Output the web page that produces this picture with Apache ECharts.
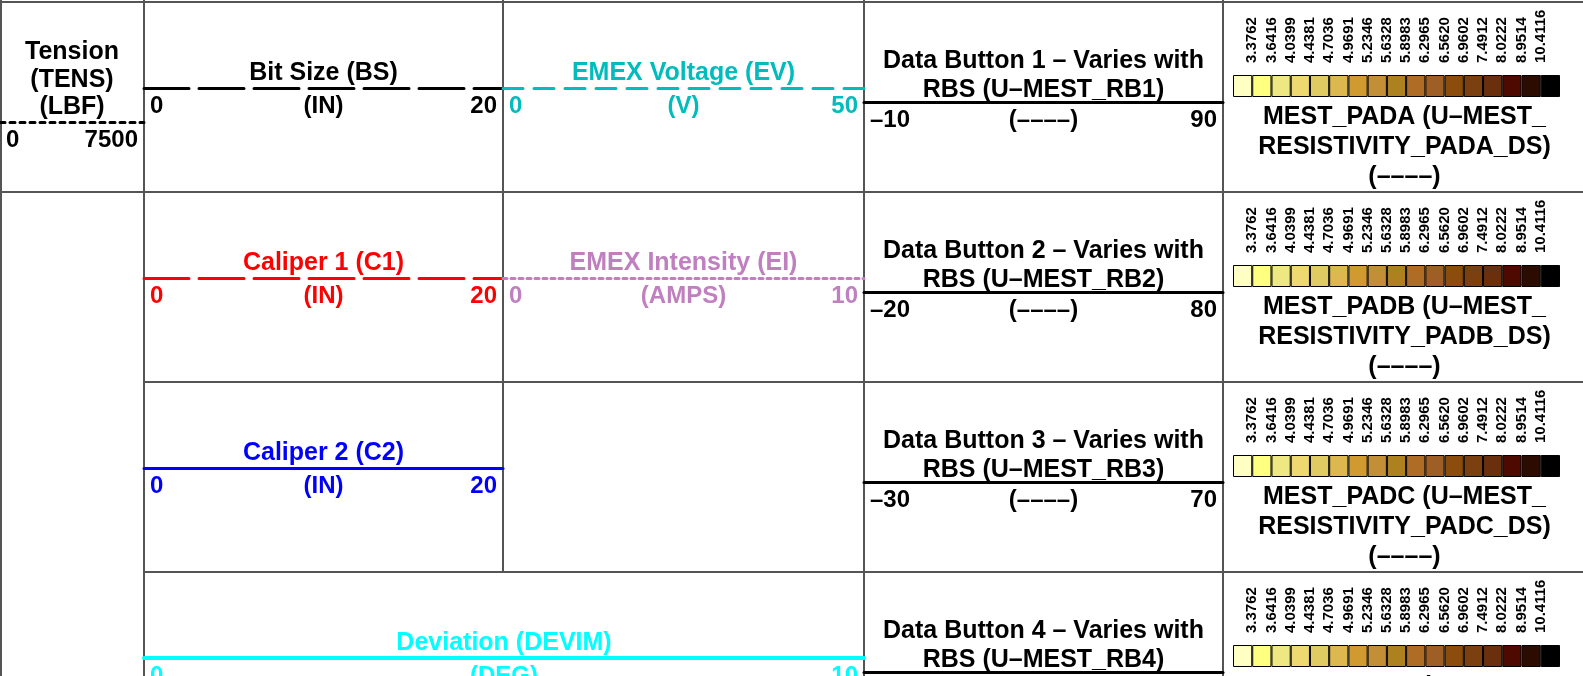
<!DOCTYPE html>
<html lang="en">
<head>
<meta charset="utf-8">
<title>Log header</title>
<script src="https://cdn.jsdelivr.net/npm/echarts@6/dist/echarts.min.js"></script>
<style>html,body{margin:0;padding:0;background:#fff;}</style>
</head>
<body>
<div id="main" style="width:1583px;height:676px;"></div>
<script>
// curve scales shown in the header
var curveTitles = ['Tension\n(TENS)\n(LBF)', 'Bit Size (BS)', 'EMEX Voltage (EV)', 'Caliper 1 (C1)', 'EMEX Intensity (EI)', 'Caliper 2 (C2)', 'Deviation (DEVIM)'];
var curveUnits = ['', '(IN)', '(V)', '(IN)', '(AMPS)', '(IN)', '(DEG)'];
var curveMin = [0, 0, 0, 0, 0, 0, 0];
var curveMax = [7500, 20, 50, 20, 10, 20, 10];
var curveColors = ['#000000', '#000000', '#00bcbc', '#ff0000', '#c080c0', '#0000ff', '#00ffff'];
var curveDash = [[5, 5], [45, 10], [20, 11], [45, 10], [4, 4], 'solid', 'solid'];

// data buttons
var buttonTitles = [
  'Data Button 1 – Varies with\nRBS (U–MEST_RB1)',
  'Data Button 2 – Varies with\nRBS (U–MEST_RB2)',
  'Data Button 3 – Varies with\nRBS (U–MEST_RB3)',
  'Data Button 4 – Varies with\nRBS (U–MEST_RB4)'
];
var buttonMin = [-10, -20, -30, -40];
var buttonMax = [90, 80, 70, 60];

// pad resistivity colour scales
var padTitles = [
  'MEST_PADA (U–MEST_\nRESISTIVITY_PADA_DS)\n(––––)',
  'MEST_PADB (U–MEST_\nRESISTIVITY_PADB_DS)\n(––––)',
  'MEST_PADC (U–MEST_\nRESISTIVITY_PADC_DS)\n(––––)',
  'MEST_PADD (U–MEST_\nRESISTIVITY_PADD_DS)\n(––––)'
];
var colorBreaks = ['3.3762', '3.6416', '4.0399', '4.4381', '4.7036', '4.9691', '5.2346', '5.6328', '5.8983', '6.2965', '6.5620', '6.9602', '7.4912', '8.0222', '8.9514', '10.4116'];
var colorClasses = ['#ffffc4', '#ffff80', '#ede882', '#eed870', '#dfcb62', '#dcb84e', '#d09a30', '#c28e36', '#ad8020', '#ae6c24', '#9e5e26', '#8c4c0c', '#7a4010', '#6a300e', '#4e0a00', '#2c0c00', '#000000'];
var classNames = colorClasses.map(function (c, i) { return 'class ' + (i + 1); });

// layout: [left, width, lineY] for each curve scale
var curveBox = [[0, 144, 122], [144, 359, 88], [503, 361, 88], [144, 359, 278], [503, 361, 278], [144, 359, 468], [144, 720, 658]];
var curveWidth = [3, 3, 3, 3, 3, 3, 4];
var curveLH = [27.5, 28, 28, 28, 28, 28, 28];
var curveGap = [-1, -0.5, -0.5, -0.5, -0.5, -0.5, -0.5];
var FONT = '"Liberation Sans", Arial, sans-serif';
var ROW = 190;

var grids = [], xAxes = [], yAxes = [], series = [];

function dash(v) { return String(v).replace('-', '–'); }

function addScale(box, title, unit, min, max, color, type, width, lh, gap) {
  var gi = grids.length;
  grids.push({left: box[0], top: box[2] - 1, width: box[1], height: 1, outerBoundsMode: 'none', containLabel: false});
  var mid = (min + max) / 2;
  var xi = xAxes.length;
  xAxes.push({
    gridIndex: gi, type: 'value', position: 'bottom', min: min, max: max,
    name: title, nameLocation: 'middle', nameGap: gap, nameMoveOverlap: false,
    nameTextStyle: {color: color, fontFamily: FONT, fontSize: 25, fontWeight: 'bold', verticalAlign: 'bottom', lineHeight: lh},
    axisLine: {show: true, onZero: false, lineStyle: {color: color, width: width, type: type}},
    axisTick: {show: false},
    splitLine: {show: false},
    axisLabel: {
      show: true,
      customValues: unit ? [min, mid, max] : [min, max],
      formatter: function (v) { return (unit && v === mid) ? unit : dash(v); },
      alignMinLabel: 'left', alignMaxLabel: 'right',
      padding: [0, 6], margin: 6,
      color: color, fontFamily: FONT, fontSize: 24, fontWeight: 'bold'
    }
  });
  var yi = yAxes.length;
  yAxes.push({gridIndex: gi, type: 'value', show: false, min: 0, max: 1});
  series.push({type: 'line', name: title, xAxisIndex: xi, yAxisIndex: yi, data: []});
}

for (var i = 0; i < curveTitles.length; i++) {
  addScale(curveBox[i], curveTitles[i], curveUnits[i], curveMin[i], curveMax[i], curveColors[i], curveDash[i], curveWidth[i], curveLH[i], curveGap[i]);
}
for (var k = 0; k < buttonTitles.length; k++) {
  addScale([864, 359, 102 + ROW * k], buttonTitles[k], '(––––)', buttonMin[k], buttonMax[k], '#000000', 'solid', 3, 29, 2.5);
}

// colour bars
for (var k = 0; k < padTitles.length; k++) {
  var gi = grids.length;
  grids.push({left: 1233, top: 75 + ROW * k, width: 327, height: 22, outerBoundsMode: 'none', containLabel: false});
  var xi = xAxes.length;
  xAxes.push({
    gridIndex: gi, type: 'category', data: classNames, position: 'bottom',
    axisLine: {show: false}, axisTick: {show: false}, axisLabel: {show: false},
    name: padTitles[k], nameLocation: 'middle', nameGap: 5, nameMoveOverlap: false,
    nameTextStyle: {color: '#000', fontFamily: FONT, fontSize: 25, fontWeight: 'bold', verticalAlign: 'top', lineHeight: 30, padding: [0, 0, 0, 16]}
  });
  // break values sit on the boundaries between colour classes
  xAxes.push({
    gridIndex: gi, type: 'value', position: 'top', min: 0, max: colorClasses.length,
    axisLine: {show: false}, axisTick: {show: false}, splitLine: {show: false},
    axisLabel: {
      customValues: colorBreaks.map(function (b, j) { return j + 1; }),
      formatter: function (v) { return colorBreaks[v - 1]; },
      rotate: -90, align: 'left', verticalAlign: 'middle', margin: 12, padding: [5, 0, 0, 0],
      color: '#000', fontFamily: FONT, fontSize: 15, fontWeight: 'bold'
    }
  });
  var yi = yAxes.length;
  yAxes.push({gridIndex: gi, type: 'value', show: false, min: 0, max: 1});
  series.push({
    type: 'bar', name: padTitles[k], xAxisIndex: xi, yAxisIndex: yi, barWidth: '100%',
    itemStyle: {borderColor: '#000', borderWidth: 1},
    data: colorClasses.map(function (c) { return {value: 1, itemStyle: {color: c}}; })
  });
}

// table frame
var frame = [
  [0, 2, 1583, 2], [0, 192, 1583, 192], [144, 382, 1583, 382], [144, 572, 1583, 572],
  [1, 0, 1, 676], [144, 0, 144, 676], [503, 0, 503, 572], [864, 0, 864, 676], [1223, 0, 1223, 676]
];
var graphics = frame.map(function (f) {
  return {type: 'line', z: 0, shape: {x1: f[0], y1: f[1], x2: f[2], y2: f[3]}, style: {stroke: '#555', lineWidth: 2}};
});

var myChart = echarts.init(document.getElementById('main'));
myChart.setOption({
  animation: false,
  grid: grids,
  xAxis: xAxes,
  yAxis: yAxes,
  series: series,
  graphic: graphics
});
</script>
</body>
</html>
